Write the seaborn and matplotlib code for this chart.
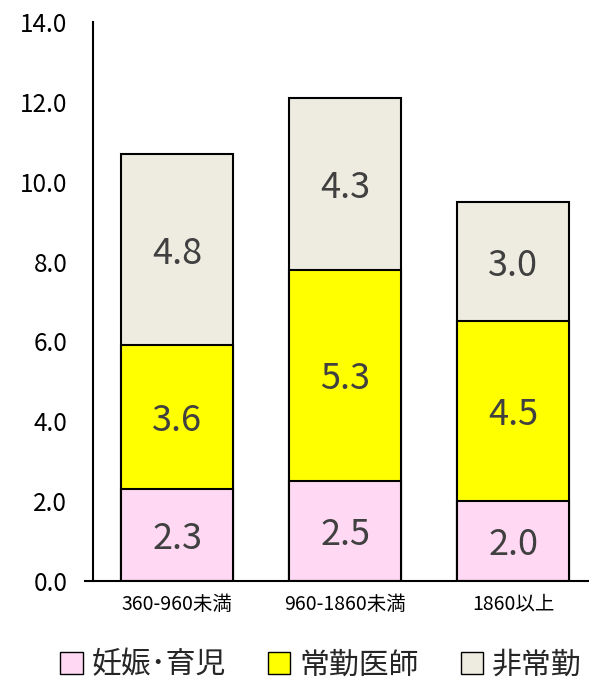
import matplotlib
matplotlib.use("Agg")
import matplotlib.pyplot as plt
import seaborn as sns
import pandas as pd
import numpy as np
from matplotlib.patches import Patch
from matplotlib.transforms import offset_copy

categories = ["360-960未満", "960-1860未満", "1860以上"]
series_names = ["妊娠･育児", "常勤医師", "非常勤"]
pregnancy = [2.3, 2.5, 2.0]
fulltime = [3.6, 5.3, 4.5]
parttime = [4.8, 4.3, 3.0]
colors = ["#FFD9F3", "#FFFF00", "#EEECE1"]
yticks = [0, 2, 4, 6, 8, 10, 12, 14]

sns.set_theme(style="white")
plt.rcParams['font.family'] = ['Noto Sans CJK JP', 'DejaVu Sans']

fig = plt.figure(figsize=(5.89, 6.85), dpi=100)
ax = fig.add_axes([93/589, 1 - 581/685, (589 - 93)/589, (581 - 22)/685])

series = [pregnancy, fulltime, parttime]
cum = np.cumsum(np.array(series), axis=0)
# draw cumulative bars from the top layer down so lower layers overlay
for i in range(len(series) - 1, -1, -1):
    df = pd.DataFrame({"cat": categories, "val": cum[i]})
    sns.barplot(data=df, x="cat", y="val", color=colors[i], width=0.667,
                edgecolor="black", linewidth=1.5, ax=ax, saturation=1)

shifted = offset_copy(ax.transData, fig=fig, x=0, y=-4, units="dots")
for i in range(len(series)):
    base = cum[i] - np.array(series[i])
    for j, v in enumerate(series[i]):
        ax.text(j, base[j] + v / 2, f"{v:.1f}", ha="center", va="center",
                fontsize=26, color="#404040", transform=shifted)

ax.set_xlim(-0.5, 2.45)
ax.set_ylim(0, 14)
ax.set_yticks(yticks)
ax.set_yticklabels([f"{t:.1f}" for t in yticks], fontsize=17.5, color="black")
ax.tick_params(axis='x', labelsize=14, colors="black", pad=9, length=0)
ax.tick_params(axis='y', pad=18.5, length=0)
ax.set_xlabel("")
ax.set_ylabel("")
for s in ["top", "right"]:
    ax.spines[s].set_visible(False)
ax.spines["left"].set_color("black")
ax.spines["left"].set_linewidth(1.5)
ax.spines["bottom"].set_color("black")
ax.spines["bottom"].set_linewidth(1.5)
ax.spines["bottom"].set_bounds(-0.55, 2.45)

handles = [Patch(facecolor=c, edgecolor="black", linewidth=1) for c in colors]
fig.legend(handles, series_names, loc="center", bbox_to_anchor=(0.545, 1 - 665/685),
           ncol=3, frameon=False, fontsize=21.5, handlelength=0.75, handleheight=0.75,
           handletextpad=0.3, columnspacing=1.4)

fig.savefig("out.png", dpi=100)
